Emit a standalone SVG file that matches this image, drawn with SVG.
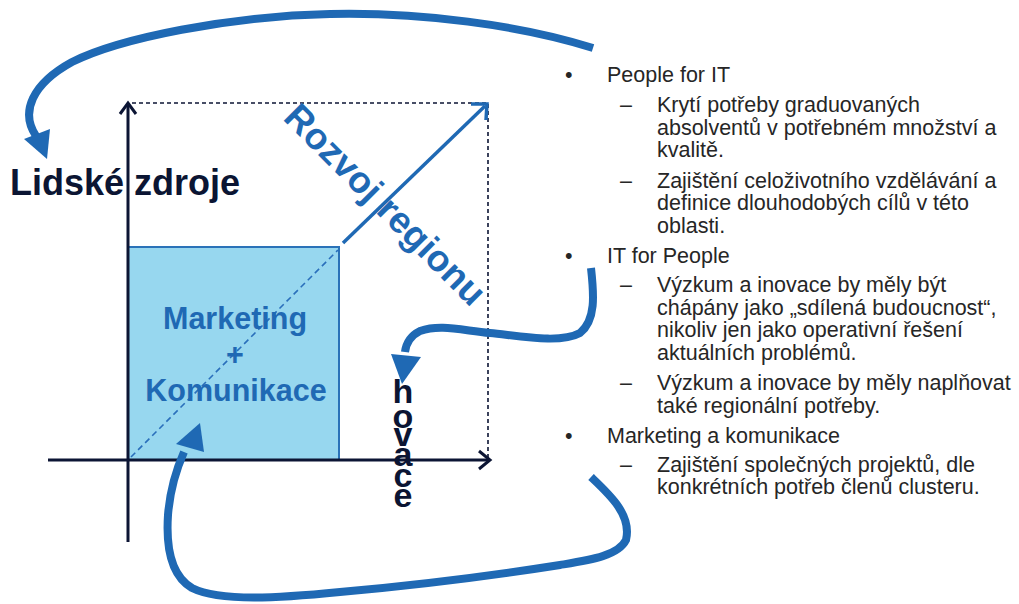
<svg xmlns="http://www.w3.org/2000/svg" width="1019" height="604" viewBox="0 0 1019 604">
<style>
.axis{stroke:#0c1534;stroke-width:3;fill:none}
.dash{stroke:#0c1534;stroke-width:1.6;stroke-dasharray:4 3;fill:none}
.curve{stroke:#1f69b4;stroke-width:8;fill:none;stroke-linecap:butt}
.head{fill:#1f69b4}
.big{font-family:"Liberation Sans",Arial,sans-serif;font-weight:bold}
.body{font-family:"Liberation Sans",Arial,sans-serif;font-size:21.5px;fill:#262626}
</style>
<rect width="1019" height="604" fill="#ffffff"/>
<g id="frame">
<path class="dash" d="M132 103 H488 V458"/>
</g>
<g id="square">
<rect x="128" y="247" width="211" height="213" fill="#97d7ef" stroke="#2a72b8" stroke-width="2"/>
<line x1="131" y1="457" x2="338" y2="250" stroke="#2a6fbb" stroke-width="1.6" stroke-dasharray="6 4"/>
<text class="big" x="235" y="329" font-size="30.5" fill="#1f69b4" text-anchor="middle">Marketing</text>
<text class="big" x="235" y="365" font-size="30.5" fill="#1f69b4" text-anchor="middle">+</text>
<text class="big" x="236" y="401" font-size="30.5" fill="#1f69b4" text-anchor="middle">Komunikace</text>
</g>
<g id="axes">
<line class="axis" x1="128" y1="103" x2="128" y2="542"/>
<polyline class="axis" points="120,114 128,103 136,114"/>
<line class="axis" x1="48" y1="460" x2="489" y2="460"/>
<polyline class="axis" points="479,451 490,460 479,469"/>
</g>
<g id="development-arrow">
<line x1="343" y1="243" x2="485" y2="106" stroke="#1f69b4" stroke-width="3.5"/>
<polyline points="471,104 487,104 486,120" fill="none" stroke="#1f69b4" stroke-width="3.5"/>
</g>
<g id="label-lidske">
<text class="big" x="10" y="195" font-size="36" fill="#0b1533">Lidské zdroje</text>
</g>
<g id="label-rozvoj">
<text class="big" font-size="37" fill="#1f69b4" transform="translate(282 119) rotate(45)">Rozvoj regionu</text>
</g>
<g id="label-inovace" class="big" font-size="34" fill="#0b1533" text-anchor="middle">
<text x="403" y="403">h</text>
<text x="403" y="428">o</text>
<text x="403" y="446">v</text>
<text x="403" y="466">a</text>
<text x="403" y="487">c</text>
<text x="403" y="507">e</text>
</g>
<g id="connectors">
<path class="curve" d="M593 48 C520 25 420 12 330 14 C230 16 120 38 72 62 C32 84 20 112 36 136"/>
<polygon class="head" points="24,139 50,129 47,159"/>
<path class="curve" d="M591 268 C594 295 596 320 580 333 C560 344 520 336 490 333 C460 330 440 324 420 331 C410 336 406 344 405 352"/>
<polygon class="head" points="391,354 421,357 402,384"/>
<path class="curve" d="M591 477 C610 495 632 515 626 540 C618 556 590 560 560 565 C490 576 420 585 340 592 C280 598 220 602 192 588 C170 575 166 545 168 515 C170 490 176 470 184 452"/>
<polygon class="head" points="176,444 204,452 200,423"/>
</g>
<g id="bullets" class="body">
<text x="565" y="82">•</text>
<text x="607" y="82">People for IT</text>
<text x="620" y="112">–</text>
<text x="657" y="112">Krytí potřeby graduovaných</text>
<text x="657" y="135">absolventů v potřebném množství a</text>
<text x="657" y="157">kvalitě.</text>
<text x="620" y="188">–</text>
<text x="657" y="188">Zajištění celoživotního vzdělávání a</text>
<text x="657" y="210">definice dlouhodobých cílů v této</text>
<text x="657" y="233">oblasti.</text>
<text x="565" y="263">•</text>
<text x="607" y="263">IT for People</text>
<text x="620" y="292">–</text>
<text x="657" y="292">Výzkum a inovace by měly být</text>
<text x="657" y="315">chápány jako „sdílená budoucnost“,</text>
<text x="657" y="337">nikoliv jen jako operativní řešení</text>
<text x="657" y="360">aktuálních problémů.</text>
<text x="620" y="390">–</text>
<text x="657" y="390">Výzkum a inovace by měly naplňovat</text>
<text x="657" y="413">také regionální potřeby.</text>
<text x="565" y="443">•</text>
<text x="607" y="443">Marketing a komunikace</text>
<text x="620" y="472">–</text>
<text x="657" y="472">Zajištění společných projektů, dle</text>
<text x="657" y="494">konkrétních potřeb členů clusteru.</text>
</g>
</svg>
